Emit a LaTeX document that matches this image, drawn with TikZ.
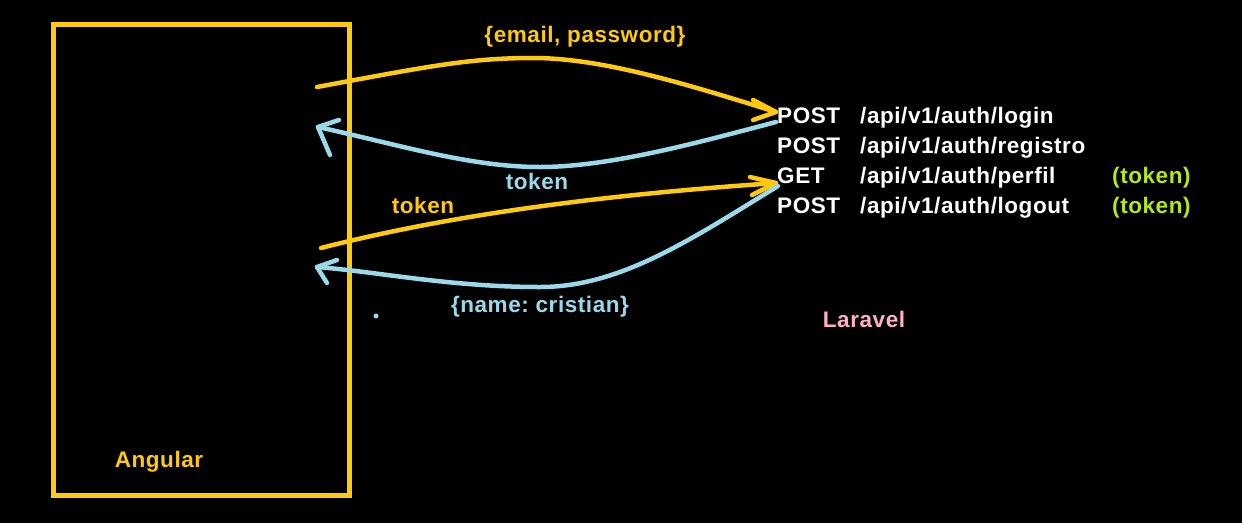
\documentclass[tikz,border=0pt]{standalone}
\usepackage{fontspec}
\setmainfont[LetterSpace=2.5]{Liberation Sans}
\definecolor{ygold}{HTML}{FFC90E}
\definecolor{lblue}{HTML}{99D9EA}
\definecolor{lgreen}{HTML}{B5E61D}
\definecolor{lpink}{HTML}{FFAEC9}
\frenchspacing
\begin{document}
\begin{tikzpicture}[x=1pt,y=-1pt,
  lbl/.style={inner sep=0pt,font=\fontsize{22.5}{26}\selectfont\bfseries\frenchspacing},
  req/.style={draw=ygold,line width=4.5pt,line cap=round,line join=round},
  resp/.style={draw=lblue,line width=4.5pt,line cap=round,line join=round}]
\fill[black] (0,0) rectangle (1242,523);
\useasboundingbox (0,0) rectangle (1242,523);
% Angular box
\node[draw=ygold,line width=4.5pt,minimum width=296pt,minimum height=471pt,inner sep=0pt,anchor=north west] (angular) at (51,22) {};
\node[lbl,text=ygold,anchor=base] (angl) at (159,467) {Angular};
% endpoints
\node[lbl,text=white,anchor=base west] (m1) at (777,123) {POST};
\node[lbl,text=white,anchor=base west] (m2) at (777,153) {POST};
\node[lbl,text=white,anchor=base west] (m3) at (777,183) {GET};
\node[lbl,text=white,anchor=base west] (m4) at (777,213) {POST};
\node[lbl,text=white,anchor=base west] (p1) at (860,123) {/api/v1/auth/login};
\node[lbl,text=white,anchor=base west] (p2) at (860,153) {/api/v1/auth/registro};
\node[lbl,text=white,anchor=base west] (p3) at (860,183) {/api/v1/auth/perfil};
\node[lbl,text=white,anchor=base west] (p4) at (860,213) {/api/v1/auth/logout};
\node[lbl,text=lgreen,anchor=base west] (t3) at (1112,183) {(token)};
\node[lbl,text=lgreen,anchor=base west] (t4) at (1112,213) {(token)};
\node[lbl,text=lpink,anchor=base] (laravel) at (864,327) {Laravel};
% labels
\node[lbl,text=ygold,anchor=base] (lemail) at (585,42) {\{email, password\}};
\node[lbl,text=lblue,anchor=base] (ltok1) at (537,189) {token};
\node[lbl,text=ygold,anchor=base] (ltok2) at (423,213) {token};
\node[lbl,text=lblue,anchor=base] (lname) at (540,312) {\{name: cristian\}};
% anchor coordinates
\coordinate (a1) at (317,87);
\coordinate (b1) at (776,112);
\coordinate (a2) at (776,122);
\coordinate (b2) at (318,127);
\coordinate (a3) at (321,248);
\coordinate (b3) at (776,183);
\coordinate (a4) at (778,186);
\coordinate (b4) at (317,267);
% request 1
\draw[req] (a1) .. controls (430,66) and (470,58) .. (533,58) .. controls (600,58) and (680,82) .. (b1);
\draw[req] (753,100) -- (b1) -- (753,120);
% response 1
\draw[resp] (a2) .. controls (700,142) and (610,167) .. (540,167) .. controls (470,167) and (400,145) .. (b2);
\draw[resp] (339,120) -- (b2) -- (330,155);
% request 2
\draw[req] (a3) .. controls (450,215) and (600,195) .. (b3);
\draw[req] (750,177) -- (b3) -- (752,195);
% response 2
\draw[resp] (a4) .. controls (690,240) and (620,287) .. (540,287) .. controls (450,287) and (380,272) .. (b4);
\draw[resp] (337,260) -- (b4) -- (327,283);
% dot
\fill[lblue] (376,316) circle (2.5pt);
\end{tikzpicture}
\end{document}
